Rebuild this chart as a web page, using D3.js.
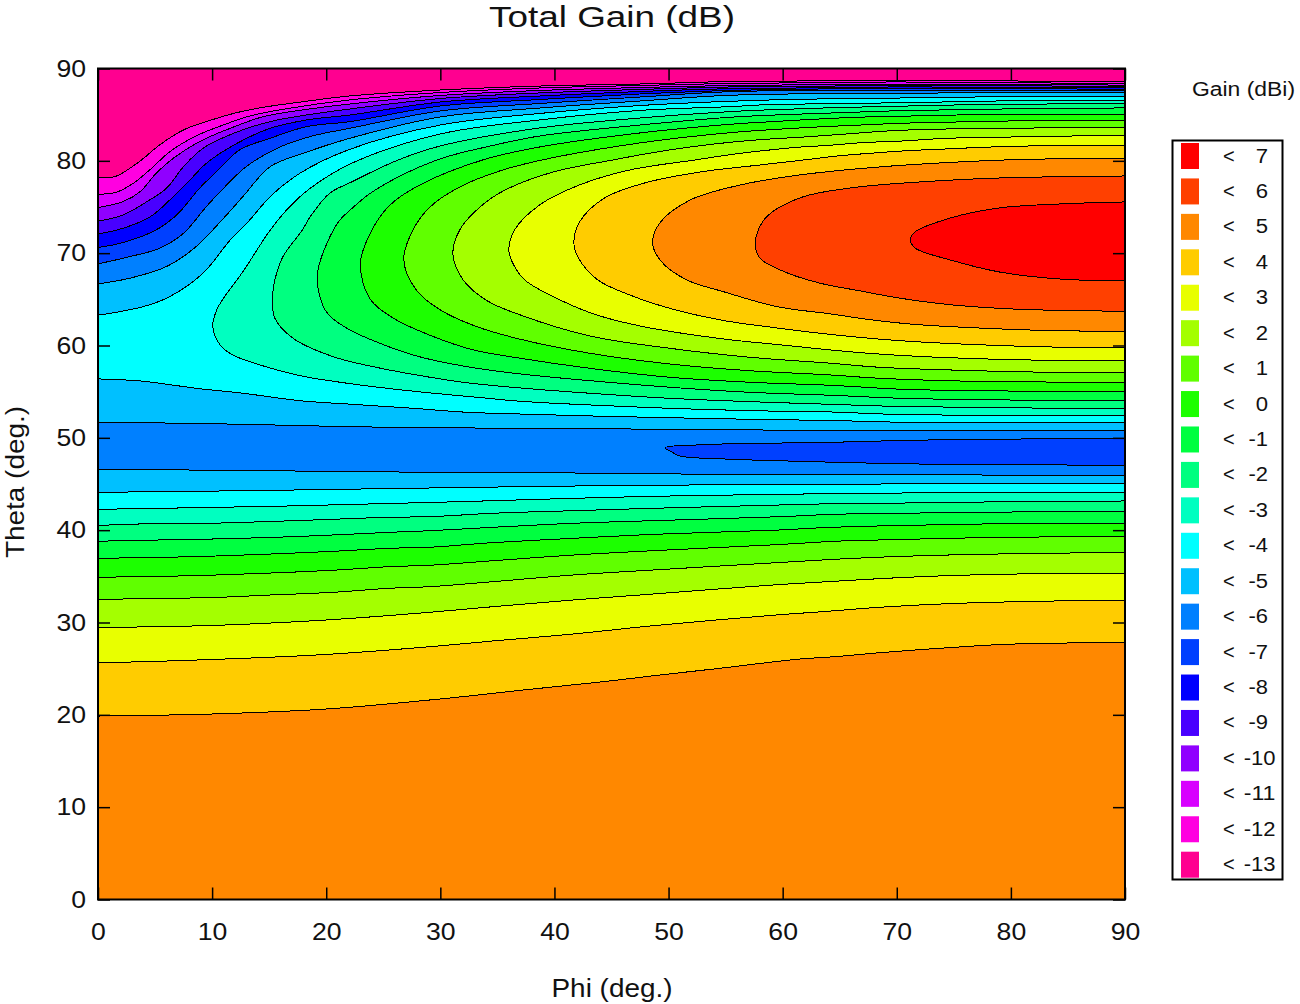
<!DOCTYPE html>
<html>
<head>
<meta charset="utf-8">
<title>Total Gain (dB)</title>
<script src="https://cdn.jsdelivr.net/npm/d3@7"></script>
<style>
  html, body { margin: 0; padding: 0; background: #fff; }
  svg { display: block; }
  text { font-family: "Liberation Sans", Arial, sans-serif; fill: #111; }
</style>
</head>
<body>
<svg id="chart" width="1300" height="1004"></svg>
<script>
const phiTicks = [0, 10, 20, 30, 40, 50, 60, 70, 80, 90];
const thetaTicks = [0, 10, 20, 30, 40, 50, 60, 70, 80, 90];
const legendLevels = [7, 6, 5, 4, 3, 2, 1, 0, -1, -2, -3, -4, -5, -6, -7, -8, -9, -10, -11, -12, -13];
const legendColors = ["#ff0000", "#ff4000", "#ff8800", "#ffcc00", "#e8ff00", "#a4ff00", "#60ff00", "#1cff00",
  "#00ff40", "#00ff80", "#00ffc0", "#00ffff", "#00c0ff", "#0080ff", "#0040ff", "#0000ff",
  "#4800ff", "#9000ff", "#d800ff", "#ff00e0", "#ff0090"];

// contour lines, [phi, theta]
// below the null: each line runs from phi 0 to phi 90
const lower4 = [[0,19.87],[10,20.09],[20,20.63],[30,21.72],[37.9,22.77],[44.3,23.59],[49.5,24.35],[54.5,25.04],[61.3,26.02],[64.6,26.3],[68.5,26.73],[74.5,27.27],[79.6,27.64],[86.7,27.81],[90,27.86]];
const lower3 = [[0,25.62],[10,25.99],[20,26.54],[29.1,27.38],[34.6,28],[41.7,28.76],[48.7,29.66],[59.8,30.85],[63.5,31.17],[68.5,31.65],[74.5,32.04],[80.5,32.25],[85.4,32.36],[90,32.41]];
const lower2 = [[0,29.46],[10,29.68],[20,30.27],[29.1,31.11],[34.6,31.71],[41.7,32.44],[48.7,33.09],[59.8,34.12],[68.5,34.75],[74.4,35.07],[82.6,35.29],[90,35.33]];
const lower1 = [[0,32.51],[6.6,32.62],[10.7,32.73],[14.6,32.95],[20.6,33.27],[25.6,33.71],[29.1,33.88],[34.6,34.42],[41.7,35.15],[48.7,35.69],[59.8,36.5],[64.6,36.85],[69.6,37.13],[75.5,37.34],[80.5,37.45],[87.5,37.56],[90,37.6]];
const lower0 = [[0,34.9],[5.6,35],[9.6,35.11],[14.6,35.33],[20.6,35.66],[25.6,36.05],[29.1,36.2],[34.6,36.69],[41.7,37.31],[48.7,37.78],[59.8,38.45],[64.6,38.8],[69.6,38.97],[77.6,39.19],[84.6,39.29],[90,39.34]];
const lowerM1 = [[0,36.95],[5.6,37.06],[9.6,37.17],[14.6,37.39],[20.6,37.71],[25.6,38.04],[29.1,38.15],[34.6,38.65],[41.7,39.12],[48.7,39.55],[59.8,40.02],[63.5,40.27],[69.6,40.49],[79.6,40.7],[90,40.75]];
const lowerM2 = [[0,38.8],[3.6,38.9],[8.6,39],[15.6,39.23],[20.6,39.48],[25.6,39.77],[29.1,39.94],[34.6,40.31],[41.7,40.75],[48.7,41.03],[59.8,41.46],[64.6,41.72],[74.4,41.89],[82.6,42],[90,42.04]];
const lowerM3 = [[0,40.49],[2.5,40.64],[9.6,40.74],[15.6,40.96],[20.6,41.18],[25.6,41.4],[29.1,41.46],[34.6,41.83],[41.7,42.11],[48.7,42.37],[59.8,42.73],[64.6,42.87],[74.4,42.98],[79.6,43.09],[90,43.16]];
const lowerM4 = [[0,42.26],[5.6,42.37],[10.6,42.48],[15.6,42.59],[22.6,42.8],[29.1,43],[34.6,43.19],[41.7,43.45],[48.7,43.67],[59.8,43.89],[74.4,44.06],[90,44.1]];
const lowerM5 = [[0,44.1],[8.6,44.21],[15.6,44.32],[21.6,44.43],[27.6,44.54],[39.6,44.75],[47.7,44.86],[59.8,44.95],[74.7,45.03],[90,45.08]];
const lowerM6 = [[0,46.59],[10.5,46.49],[19.5,46.38],[29.1,46.27],[36.1,46.27],[49.5,46.09],[63.3,46.05],[90,45.9]];
// the small -7 lens inside the null, top arm then bottom arm
const lensTop = [[90,49.91],[76.6,49.84],[69.6,49.69],[63.3,49.48],[57.6,49.41],[52.5,49.23],[49.7,48.93]];
const lensBottom = [[50.3,48.45],[51,48.03],[55.5,47.68],[60.5,47.49],[68.5,47.24],[73.5,47.14],[90,47.03]];
// above the null
const upperM6 = [[0,51.69],[7.5,51.58],[12.5,51.47],[16.6,51.36],[20.5,51.25],[25.5,51.14],[37,51.03],[50.1,50.93],[57.1,50.85],[90,50.82]];
const upperM5 = [[0,56.38],[3.7,56.16],[8.9,55.32],[12.7,54.83],[17.7,54.02],[22.3,53.63],[27.6,53.2],[32.3,52.77],[37,52.58],[43.1,52.37],[50.1,52.18],[57.1,52.01],[64.2,51.88],[70.5,51.69],[90,51.69]];
// near the top edge, gain falling
const topM5 = [[0,63.28],[4,64.22],[6.3,65.3],[9.2,67.83],[11.6,71.44],[13.3,73.6],[15.1,76.13],[17.7,78.66],[22.1,81.26],[30,83.88],[38.7,85.13],[47.5,85.99],[55.4,86.45],[61.5,86.67],[68.5,86.77],[74.4,86.88],[80.5,86.95],[90,86.99]];
const topM6 = [[0,66.67],[2.8,67.29],[6,68.55],[8.6,70.71],[11,73.78],[12.7,76.13],[15.1,79.38],[18,80.82],[22.1,82.45],[30,84.75],[38.7,85.72],[47.5,86.48],[55.4,87.1],[70.3,87.33],[90,87.38]];
const topM7 = [[0,68.84],[2.8,69.63],[5.4,70.53],[7.5,72.16],[9.5,75.05],[11,77.03],[13,79.38],[15.7,81.36],[18.6,82.63],[22.1,83.53],[30,85.4],[38.7,86.21],[47.5,86.91],[55.4,87.49],[70.3,87.67],[90,87.58]];
const topM8 = [[0,70.61],[2.2,71.15],[5.1,72.52],[6.9,74.14],[8.9,77.03],[10.4,78.84],[12.4,81.18],[15.1,82.45],[18.3,83.71],[22.1,84.25],[30,85.94],[38.7,86.64],[47.5,87.24],[55.4,87.62],[70.3,87.84],[90,87.75]];
const topM9 = [[0,72.09],[2.2,72.7],[4.6,73.96],[6.3,75.77],[7.8,77.57],[9.5,79.74],[12.2,81.91],[15.1,83.53],[18.3,84.43],[22.1,84.97],[30,86.37],[38.7,87.02],[47.5,87.51],[55.4,87.81],[70.3,88],[90,87.91]];
const topM10 = [[0,73.46],[2.2,74.14],[4.3,75.59],[6,77.03],[7.5,79.38],[9.2,81.36],[11.9,82.99],[15.1,84.25],[18.3,84.97],[22.1,85.62],[30,86.75],[38.7,87.35],[47.5,87.73],[55.4,88],[70.3,88.16],[90,88.06]];
const topM11 = [[0,74.94],[2.2,75.59],[3.7,76.67],[5.1,78.66],[6.6,80.28],[8.9,82.09],[11.6,83.53],[14.5,84.79],[18,85.52],[22.1,86.16],[30,87.08],[38.7,87.62],[47.5,87.94],[55.4,88.16],[70.3,88.32],[90,88.2]];
const topM12 = [[0,76.38],[1.6,76.6],[3.1,77.57],[4.7,79.2],[6.3,81],[8.6,82.7],[11,83.89],[13.3,84.86],[16.8,85.7],[22.1,86.6],[30,87.4],[38.7,87.89],[47.5,88.16],[55.4,88.38],[70.3,88.54],[90,88.35]];
const topM13 = [[0,78.15],[1.5,78.3],[2.8,79.2],[4,80.28],[5.4,81.72],[7.5,83.35],[9.5,84.25],[12.2,85.23],[14.5,85.8],[17.4,86.31],[22.1,87.03],[30,87.67],[38.7,88.1],[47.5,88.32],[55.4,88.59],[70.3,88.72],[90,88.54]];
// main lobe, open on the phi = 90 side: upper arm, nose, lower arm
const lobeM4 = [[90,86.56],[80.5,86.52],[72.7,86.34],[64.6,86.19],[58.6,86.08],[55.4,85.87],[47.5,85.46],[38.7,84.43],[30,82.91],[22.1,79.66],[18.6,77.03],[16.8,75.04],[15.1,72.51],[12.7,68],[11,65.12],[10.4,63.85],[10.06,62.04],[10.7,60.06],[11.8,58.98],[14.2,57.89],[17.7,56.73],[21.5,55.97],[25.3,55.37],[29.4,54.83],[32.9,54.43],[37,53.96],[43.1,53.56],[50.1,53.2],[57.1,52.94],[64.2,52.8],[69.6,52.55],[77.6,52.44],[90,52.44]];
const lobeM3 = [[90,86.16],[78.8,86.13],[72.7,85.98],[64.6,85.76],[58.5,85.51],[55.4,85.33],[47.5,84.64],[38.7,83.56],[30,81.61],[26.3,80.09],[22.1,77.64],[20.3,76.49],[18.6,73.95],[17.9,72.51],[16.8,70.7],[16.2,69.62],[15.5,67.1],[15.3,65.29],[15.5,62.95],[17.1,60.78],[20.6,58.79],[24.1,57.71],[27.9,56.81],[32.3,55.97],[37,55.4],[43.1,54.83],[50.1,54.28],[57.1,53.92],[64.2,53.63],[69.6,53.42],[84.6,53.2],[90,53.2]];
const lobeM2 = [[90,85.73],[86.7,85.7],[77.6,85.59],[69.4,85.4],[63.5,85.15],[59.5,84.97],[55.4,84.72],[47.5,83.88],[38.7,82.69],[34.4,81.61],[29.7,80.09],[24.3,76.85],[22.1,74.68],[21,73.27],[19.5,69.26],[19.2,67.1],[20,63.66],[21.8,61.87],[24.7,60.24],[27.9,58.87],[32.3,57.71],[37,56.92],[43.1,56.19],[50.1,55.48],[57.1,54.93],[64.2,54.61],[70.5,54.28],[82.6,54.07],[90,54.07]];
const lobeM1 = [[90,85.04],[78.8,85.04],[72.7,84.89],[66.5,84.72],[62.7,84.5],[58.6,84.21],[55.4,83.96],[47.5,83.02],[38.7,81.5],[33.7,80.09],[28.2,77.39],[25.6,75.22],[24,72.51],[23,68.9],[23.8,65.12],[25.9,62.95],[29.4,60.96],[32.9,59.52],[37,58.62],[43.1,57.53],[50.1,56.56],[57.1,56.02],[64.2,55.69],[70.5,55.26],[78.4,55.08],[90,55.04]];
const lobe0 = [[90,84.39],[81.7,84.35],[76.6,84.24],[70.5,84.07],[65.6,83.81],[62.6,83.64],[58.6,83.34],[55.4,83.05],[47.5,81.94],[38.9,80.09],[35.2,78.9],[31.7,77.17],[29.1,75],[27.6,72.51],[26.8,69.26],[27.9,66.01],[30,63.85],[33.2,62.04],[37,60.68],[43.1,59.16],[50.1,58],[57.1,57.27],[64.2,56.81],[68.5,56.45],[76.4,56.13],[90,56.02]];
const lobe1 = [[90,83.59],[82.6,83.56],[74.4,83.45],[69.7,83.27],[65.6,82.91],[61.5,82.55],[58.6,82.34],[55.4,82.01],[50.1,81.18],[45.1,80.09],[39.6,78.69],[35.2,76.52],[33,74.46],[31.7,72.51],[31.1,69.99],[32,67.1],[34.1,64.85],[37,63.31],[43.1,61.03],[50.1,59.7],[57.1,58.73],[64.2,58.08],[68.5,57.64],[75.5,57.32],[83.6,57.1],[90,57.1]];
const lobe2 = [[90,82.77],[85.4,82.69],[80.5,82.59],[74.4,82.44],[70.5,82.15],[67,81.97],[64.2,81.69],[61.3,81.47],[58.3,81.1],[55.4,80.67],[52.3,80.09],[46.6,79.01],[42.2,77.39],[38.7,75.22],[36.5,72.51],[36,70.35],[36.3,69.05],[37.4,67.1],[40.5,64.93],[43.7,63.31],[47.8,62.04],[54.8,60.71],[59.5,60.11],[64.2,59.52],[67.7,59.14],[73.5,58.73],[81.7,58.43],[90,58.4]];
const lobe3 = [[90,81.66],[81.7,81.61],[77.6,81.47],[74.4,81.29],[70.9,81.1],[67.7,80.82],[64.8,80.53],[62.6,80.2],[58,79.55],[52.8,78.8],[47.9,77.6],[44.4,75.98],[42.2,73.38],[41.7,71.1],[42.1,69.48],[43.8,67.1],[46.6,65.47],[50.1,64.03],[54.8,62.71],[59.5,61.9],[64.2,61.2],[69.4,60.6],[75.5,60.17],[84.6,59.81],[90,59.79]];
const lobe4 = [[90,80.24],[81.7,80.17],[75.5,79.88],[68.5,79.34],[61.5,78.47],[56.3,77.39],[51.9,75.76],[49.3,73.38],[48.6,71.1],[49.4,69.05],[51.6,67.1],[54.8,65.83],[59.5,64.21],[64.2,63.42],[67.4,62.84],[71.4,62.3],[77.6,61.87],[83.7,61.61],[90,61.54]];
const lobe5 = [[90,78.36],[79,78.14],[72,77.71],[65.9,77.06],[61.5,75.98],[58.5,73.81],[57.6,71.21],[58,69.48],[60.2,67.96],[63.3,66.74],[66.8,65.91],[70.3,65.12],[74.9,64.39],[80.8,63.92],[90,63.71]];
const lobe6 = [[90,75.55],[84.3,75.33],[79,74.9],[74.7,73.81],[71.6,72.3],[71.2,71.43],[71.6,70.56],[74.7,69.26],[79,67.96],[84.3,67.2],[90,66.99]];

const margin = { left: 98, right: 1125, top: 68.5, bottom: 899.5 };

const svg = d3.select("#chart");
const x = d3.scaleLinear().domain([0, 90]).range([margin.left, margin.right]);
const y = d3.scaleLinear().domain([0, 90]).range([margin.bottom, margin.top]);
const color = d3.scaleOrdinal(legendLevels, legendColors);

const line = d3
  .line()
  .x((d) => x(d[0]))
  .y((d) => y(d[1]))
  .curve(d3.curveCatmullRom.alpha(0.5));

// region above a phi 0..90 line, closed over the top of the plot
const above = (pts) => `${line(pts)}L${x(90)},${y(90)}L${x(0)},${y(90)}Z`;
const closed = (pts) => `${line(pts)}Z`;

svg
  .append("clipPath")
  .attr("id", "plot-clip")
  .append("rect")
  .attr("x", x(0))
  .attr("y", y(90))
  .attr("width", x(90) - x(0))
  .attr("height", y(0) - y(90));

const plot = svg.append("g").attr("clip-path", "url(#plot-clip)");

plot
  .append("rect")
  .attr("x", x(0))
  .attr("y", y(90))
  .attr("width", x(90) - x(0))
  .attr("height", y(0) - y(90))
  .attr("fill", color(5));

const bands = [
  [lower4, 4, above], [lower3, 3, above], [lower2, 2, above], [lower1, 1, above],
  [lower0, 0, above], [lowerM1, -1, above], [lowerM2, -2, above], [lowerM3, -3, above],
  [lowerM4, -4, above], [lowerM5, -5, above], [lowerM6, -6, above],
  [upperM6, -5, above], [upperM5, -4, above],
  [topM5, -5, above], [topM6, -6, above], [topM7, -7, above], [topM8, -8, above],
  [topM9, -9, above], [topM10, -10, above], [topM11, -11, above], [topM12, -12, above],
  [topM13, -13, above],
  [lobeM4, -3, closed], [lobeM3, -2, closed], [lobeM2, -1, closed], [lobeM1, 0, closed],
  [lobe0, 1, closed], [lobe1, 2, closed], [lobe2, 3, closed], [lobe3, 4, closed],
  [lobe4, 5, closed], [lobe5, 6, closed], [lobe6, 7, closed],
  [lensTop.concat(lensBottom), -7, closed],
];

plot
  .selectAll("path.band")
  .data(bands)
  .join("path")
  .attr("class", "band")
  .attr("d", (d) => d[2](d[0]))
  .attr("fill", (d) => color(d[1]))
  .attr("stroke", "#000")
  .attr("stroke-width", 1)
  .attr("shape-rendering", "crispEdges");

// axes on all four sides, ticks pointing in, labels only left and bottom
const TICK = 12;
const styleAxis = (g) => {
  g.select(".domain").remove();
  g.selectAll(".tick line").attr("stroke", "#000").attr("stroke-width", 1.5);
  g.selectAll(".tick text")
    .attr("font-size", 24)
    .attr("fill", "#111")
    .attr("font-family", '"Liberation Sans", Arial, sans-serif')
    .attr("lengthAdjust", "spacingAndGlyphs")
    .attr("textLength", (d) => String(d).length * 14.8);
};

svg
  .append("g")
  .attr("transform", `translate(0,${y(0)})`)
  .call(d3.axisBottom(x).tickValues(phiTicks).tickSize(-TICK).tickPadding(23))
  .call(styleAxis);
svg
  .append("g")
  .attr("transform", `translate(${x(0)},0)`)
  .call(d3.axisLeft(y).tickValues(thetaTicks).tickSize(-TICK).tickPadding(12))
  .call(styleAxis);
svg
  .append("g")
  .attr("transform", `translate(0,${y(90)})`)
  .call(d3.axisTop(x).tickValues(phiTicks).tickSize(-TICK).tickFormat(""))
  .call(styleAxis);
svg
  .append("g")
  .attr("transform", `translate(${x(90)},0)`)
  .call(d3.axisRight(y).tickValues(thetaTicks).tickSize(-TICK).tickFormat(""))
  .call(styleAxis);

svg
  .append("rect")
  .attr("x", x(0))
  .attr("y", y(90))
  .attr("width", x(90) - x(0))
  .attr("height", y(0) - y(90))
  .attr("fill", "none")
  .attr("stroke", "#000")
  .attr("stroke-width", 2);

const label = (txt, px, py, size, len) =>
  svg
    .append("text")
    .attr("x", px)
    .attr("y", py)
    .attr("text-anchor", "middle")
    .attr("font-size", size)
    .attr("lengthAdjust", "spacingAndGlyphs")
    .attr("textLength", len)
    .text(txt);

label("Total Gain (dB)", 612, 27, 30, 246);
label("Phi (deg.)", 612, 997, 25, 121);
label("Theta (deg.)", 0, 0, 25, 152).attr("transform", "translate(24,482) rotate(-90)");
label("Gain (dBi)", 1243.5, 96, 20, 103);

// legend
const legendY = d3
  .scaleLinear()
  .domain([0, legendLevels.length - 1])
  .range([143, 851.7]);

svg
  .append("rect")
  .attr("x", 1172.5)
  .attr("y", 140.5)
  .attr("width", 110)
  .attr("height", 739)
  .attr("fill", "#fff")
  .attr("stroke", "#000")
  .attr("stroke-width", 2);

const rows = svg
  .selectAll("g.legend-row")
  .data(legendLevels)
  .join("g")
  .attr("class", "legend-row")
  .attr("transform", (d, i) => `translate(0,${legendY(i)})`);

rows
  .append("rect")
  .attr("x", 1181)
  .attr("width", 18)
  .attr("height", 26)
  .attr("fill", (d) => color(d));

rows
  .append("text")
  .attr("x", 1223)
  .attr("y", 19.5)
  .attr("font-size", 20)
  .text("<");

rows
  .append("text")
  .attr("x", (d) => (Math.abs(d) >= 10 ? 1275.5 : 1268))
  .attr("y", 19.5)
  .attr("font-size", 20)
  .attr("text-anchor", "end")
  .attr("lengthAdjust", "spacingAndGlyphs")
  .attr("textLength", (d) => (d < 0 ? 7.2 : 0) + String(Math.abs(d)).length * 12.3)
  .text((d) => d);
</script>
</body>
</html>
